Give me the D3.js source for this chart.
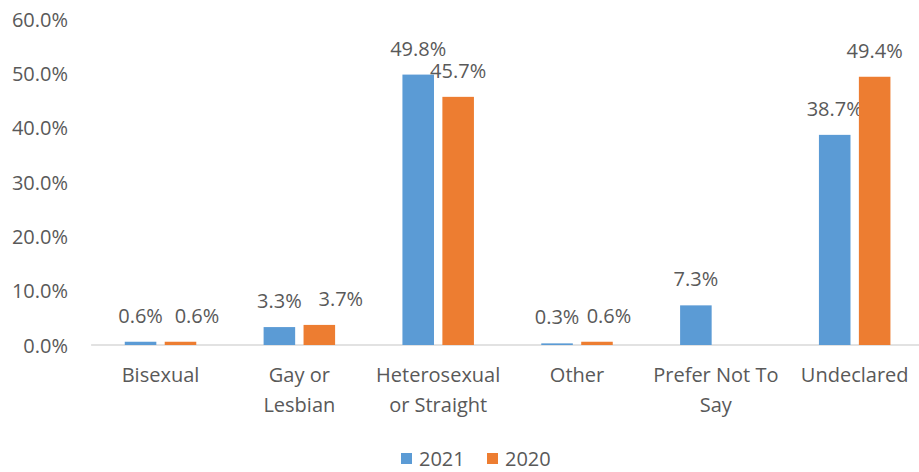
<!DOCTYPE html>
<html><head><meta charset="utf-8">
<script src="https://cdn.jsdelivr.net/npm/d3@7"></script>
<style>body{margin:0;background:#fff}svg{display:block}text{font-family:"Open Sans",sans-serif;fill:#595959}</style>
</head><body><svg id="c" width="919" height="472"></svg>
<script>
const categories = ["Bisexual","Gay or Lesbian","Heterosexual or Straight","Other","Prefer Not To Say","Undeclared"];
const categoryLines = [["Bisexual"],["Gay or","Lesbian"],["Heterosexual","or Straight"],["Other"],["Prefer Not To","Say"],["Undeclared"]];
const seriesNames = ["2021","2020"];
const values2021 = [0.6,3.3,49.8,0.3,7.3,38.7];
const values2020 = [0.6,3.7,45.7,0.6,null,49.4];
const yTicks = [0,10,20,30,40,50,60];
const colors = ["#5B9BD5","#ED7D31"];

const svg = d3.select("#c");
const y = d3.scaleLinear().domain([0,60]).range([345,19.2]);
const x0 = d3.scaleBand().domain(categories).range([91.1,924.1]).paddingInner(0.485).paddingOuter(0.2425);
const x1 = d3.scaleBand().domain(seriesNames).range([0,x0.bandwidth()]).paddingInner(0.21);

const fs = 20;
// label nudges (layout only) for the 2020 labels that would collide
const nudge2020 = {"Bisexual":16.5,"Gay or Lesbian":21.5,"Other":12};

const yAxis = d3.axisLeft(y).tickValues(yTicks).tickFormat(d=>d.toFixed(1)+"%").tickSize(0).tickPadding(0);
const ya = svg.append("g").attr("transform","translate(68,0)").call(yAxis);
ya.select(".domain").remove();
ya.selectAll("text").style("font-size",fs+"px").style("font-family","'Open Sans',sans-serif").attr("fill","#595959").attr("dy","0.35em");

svg.append("line").attr("x1",x0.range()[0]).attr("x2",x0.range()[1]).attr("y1",y(0)).attr("y2",y(0)).attr("stroke","#d9d9d9").attr("stroke-width",1.5);

const data = categories.map((c,i)=>({c,i,vals:[values2021[i],values2020[i]]}));
const g = svg.append("g");
data.forEach(d=>{
  d.vals.forEach((v,j)=>{
    if(v==null) return;
    const bx = x0(d.c)+x1(seriesNames[j]);
    g.append("rect").attr("x",bx).attr("width",x1.bandwidth()).attr("y",y(v)).attr("height",y(0)-y(v)).attr("fill",colors[j]);
    const dx = j===1 ? (nudge2020[d.c]||0) : 0;
    g.append("text").attr("x",bx+x1.bandwidth()/2+dx).attr("y",y(v)-19).attr("text-anchor","middle").style("font-size",fs+"px").text(v.toFixed(1)+"%");
  });
  const t = svg.append("text").attr("text-anchor","middle").style("font-size",fs+"px");
  categoryLines[d.i].forEach((ln,k)=>{
    t.append("tspan").attr("x",x0(d.c)+x0.bandwidth()/2).attr("y",382+k*30).text(ln);
  });
});

const lx = [401,487];
seriesNames.forEach((s,j)=>{
  svg.append("rect").attr("x",lx[j]).attr("y",453).attr("width",11).attr("height",11).attr("fill",colors[j]);
  svg.append("text").attr("x",lx[j]+18).attr("y",466).style("font-size",fs+"px").text(s);
});
</script></body></html>
